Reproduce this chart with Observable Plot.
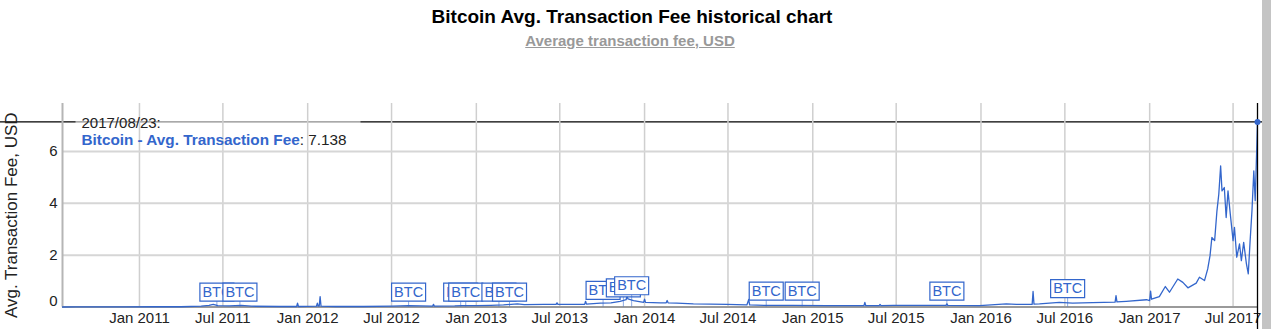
<!DOCTYPE html>
<html><head><meta charset="utf-8">
<script src="https://cdn.jsdelivr.net/npm/d3@7"></script>
<script src="https://cdn.jsdelivr.net/npm/@observablehq/plot@0.6"></script>
<style>
body{margin:0;background:#fff;font-family:Arial,"Liberation Sans",sans-serif;width:1271px;height:329px;overflow:hidden;position:relative}
#head{position:relative;height:60px;width:1264px}
#title{position:absolute;top:7px;left:0;width:1264px;text-align:center;font-weight:bold;font-size:19px;line-height:19px;color:#000}
#sub{position:absolute;top:33px;left:0;width:1260px;text-align:center;font-weight:bold;font-size:15px;line-height:15px;color:#999;text-decoration:underline}
#scroll{position:absolute;right:0;top:0;width:9px;height:329px;background:#c4c4c4}
#chart svg{display:block}
</style></head>
<body>
<div id="head"><div id="title">Bitcoin Avg. Transaction Fee historical chart</div><div id="sub">Average transaction fee, USD</div></div>
<div id="chart"></div>
<div id="scroll"></div>
<script>
const dates = ["2010-07-18","2010-08-15","2010-10-01","2010-12-01","2011-02-01","2011-04-01","2011-05-15","2011-06-01","2011-06-10","2011-06-20","2011-07-15","2011-08-10","2011-09-01","2011-11-01","2011-12-08","2011-12-10","2011-12-12","2012-01-20","2012-01-22","2012-01-24","2012-01-26","2012-01-28","2012-01-30","2012-03-01","2012-05-01","2012-07-01","2012-08-07","2012-09-28","2012-09-30","2012-10-02","2012-11-15","2012-12-01","2013-01-01","2013-02-01","2013-03-01","2013-03-31","2013-04-15","2013-05-27","2013-06-23","2013-06-25","2013-06-27","2013-08-08","2013-08-24","2013-08-26","2013-08-28","2013-09-27","2013-10-20","2013-11-09","2013-11-22","2013-11-24","2013-11-26","2013-12-08","2013-12-30","2014-01-01","2014-01-03","2014-02-04","2014-02-17","2014-02-19","2014-02-21","2014-03-12","2014-04-17","2014-06-29","2014-08-11","2014-08-15","2014-08-17","2014-09-23","2014-11-20","2015-01-31","2015-04-22","2015-04-24","2015-04-26","2015-05-25","2015-05-27","2015-05-29","2015-06-25","2015-09-05","2015-10-17","2015-10-19","2015-10-21","2015-12-29","2016-02-25","2016-03-18","2016-04-21","2016-04-23","2016-04-25","2016-05-07","2016-06-19","2016-07-18","2016-08-30","2016-10-18","2016-10-20","2016-10-22","2016-11-11","2016-12-25","2017-01-01","2017-01-03","2017-01-05","2017-01-22","2017-02-04","2017-02-13","2017-03-03","2017-03-14","2017-03-25","2017-04-12","2017-04-19","2017-04-30","2017-05-07","2017-05-12","2017-05-16","2017-05-22","2017-05-27","2017-05-31","2017-06-04","2017-06-07","2017-06-12","2017-06-16","2017-06-20","2017-06-25","2017-07-01","2017-07-04","2017-07-09","2017-07-15","2017-07-19","2017-07-24","2017-07-30","2017-08-03","2017-08-07","2017-08-11","2017-08-15","2017-08-18","2017-08-21","2017-08-23"];
const fees = [0.00,0.003,0.005,0.005,0.01,0.01,0.03,0.06,0.10,0.05,0.04,0.06,0.03,0.02,0.02,0.15,0.02,0.03,0.15,0.03,0.03,0.40,0.03,0.02,0.02,0.03,0.05,0.03,0.10,0.03,0.04,0.05,0.05,0.06,0.08,0.12,0.09,0.10,0.10,0.16,0.10,0.10,0.10,0.22,0.11,0.15,0.16,0.22,0.28,0.44,0.31,0.25,0.18,0.30,0.18,0.16,0.16,0.25,0.16,0.15,0.12,0.10,0.08,0.29,0.08,0.06,0.06,0.05,0.05,0.18,0.05,0.05,0.10,0.05,0.06,0.06,0.06,0.12,0.06,0.05,0.12,0.10,0.10,0.60,0.11,0.12,0.18,0.15,0.17,0.19,0.44,0.20,0.22,0.28,0.25,0.61,0.30,0.40,0.79,0.57,1.08,0.95,0.74,0.92,1.15,1.02,1.47,1.98,2.68,2.56,3.71,4.35,5.44,4.48,4.61,3.45,4.48,3.58,2.56,3.07,1.92,2.43,1.79,2.49,1.66,1.28,2.56,3.71,5.25,4.10,5.90,7.138];

const annDates = ["2011-06-18","2011-08-07","2012-08-07","2012-11-28","2012-12-09","2013-02-19","2013-03-14","2013-10-03","2013-11-16","2013-12-04","2014-09-22","2014-12-09","2015-10-19","2016-07-07"];
const annLevels = [0.03,0.03,0.03,0.03,0.03,0.03,0.03,0.10,0.20,0.28,0.07,0.07,0.07,0.17];
const annText = "BTC";

const xTicks = ["2011-01-01","2011-07-01","2012-01-01","2012-07-01","2013-01-01","2013-07-01","2014-01-01","2014-07-01","2015-01-01","2015-07-01","2016-01-01","2016-07-01","2017-01-01","2017-07-01"];
const yTicks = [0, 2, 4, 6];
const yMax = 7.85;
const seriesName = "Bitcoin - Avg. Transaction Fee";
const yLabel = "Avg. Transaction Fee, USD";

const blue = "#3366cc";
const series = dates.map((d, i) => ({date: new Date(d), fee: fees[i]}));
const anns = annDates.map((d, i) => ({date: new Date(d), level: annLevels[i]}));
const tickDates = xTicks.map(d => new Date(d));
const last = series[series.length - 1];
const fmtTick = d3.utcFormat("%b %Y");

const boxSymbol = {draw(ctx) { ctx.rect(-17, -9, 34, 18); }};

const annMarks = anns.flatMap(a => [
  Plot.ruleX([a], {x: "date", y1: 0, y2: "level", insetBottom: 5, stroke: blue, strokeOpacity: 0.55, strokeWidth: 1}),
  Plot.dot([a], {x: "date", y: "level", symbol: boxSymbol, r: 10, dy: -14, fill: "white", stroke: blue, strokeWidth: 1.2}),
  Plot.text([a], {x: "date", y: "level", text: () => annText, dy: -14, fontSize: 14.5, fill: blue})
]);

const chart = Plot.plot({
  width: 1271,
  height: 269,
  marginTop: 43,
  marginLeft: 62,
  marginRight: 14,
  marginBottom: 22.5,
  style: {fontFamily: "Arial, 'Liberation Sans', sans-serif", fontSize: "15px", color: "#222", background: "white", overflow: "visible"},
  x: {type: "utc", domain: [series[0].date, last.date]},
  y: {domain: [0, yMax]},
  marks: [
    Plot.ruleY([last], {y: "fee", stroke: "black", strokeWidth: 1.2, insetLeft: -62, insetRight: -5}),
    Plot.frame({fill: "white", fillOpacity: 0.55, stroke: null, insetLeft: 13, insetRight: 897, insetBottom: 164.5}),
    Plot.ruleX(tickDates, {stroke: "#cfcfcf", strokeWidth: 1.5}),
    Plot.ruleY(yTicks.filter(t => t > 0), {stroke: "#d6d6d6", strokeWidth: 2}),
    Plot.ruleX([series[0].date], {stroke: "#b5b5b5", strokeWidth: 2}),
    Plot.ruleY([0], {stroke: "#9a9a9a", strokeWidth: 2}),
    Plot.axisX(tickDates, {tickSize: 0, tickPadding: 5, tickFormat: fmtTick, fontSize: 15, fill: "#222", label: null}),
    Plot.axisY(yTicks.filter(t => t > 0), {tickSize: 0, tickPadding: 5, fontSize: 15, fill: "#222", label: null}),
    Plot.axisY([0], {tickSize: 0, tickPadding: 5, dy: -5.5, fontSize: 15, fill: "#222", label: null}),
    Plot.text([yLabel], {frameAnchor: "left", textAnchor: "middle", lineAnchor: "middle", rotate: -90, dx: -51, dy: 10, fontSize: 17, fill: "#222"}),
    Plot.line(series, {x: "date", y: "fee", stroke: blue, strokeWidth: 1.3}),
    ...annMarks,
    Plot.text([last], {text: d => d3.utcFormat("%Y/%m/%d:")(d.date), frameAnchor: "top-left", dx: 19, dy: 13.5, textAnchor: "start", fontSize: 15, fill: "#222"}),
    Plot.text([last], {text: d => seriesName + ": " + d.fee, frameAnchor: "top-left", dx: 19, dy: 31, textAnchor: "start", fontSize: 15.3, fill: "#222", className: "fee-legend"}),
    Plot.ruleX([last], {x: "date", stroke: "black", strokeWidth: 1.3, insetBottom: -23}),
    Plot.dot([last], {x: "date", y: "fee", r: 3, fill: blue})
  ]
});
document.getElementById("chart").appendChild(chart);

// style the legend line: bold blue series name, plain value
d3.select(chart).selectAll("g.fee-legend text").each(function() {
  const t = d3.select(this);
  const full = t.text();
  const idx = full.lastIndexOf(": ");
  t.text(null);
  t.append("tspan").attr("font-weight", "bold").attr("fill", blue).text(full.slice(0, idx));
  t.append("tspan").attr("fill", "#222").text(full.slice(idx));
});
</script>
</body></html>
